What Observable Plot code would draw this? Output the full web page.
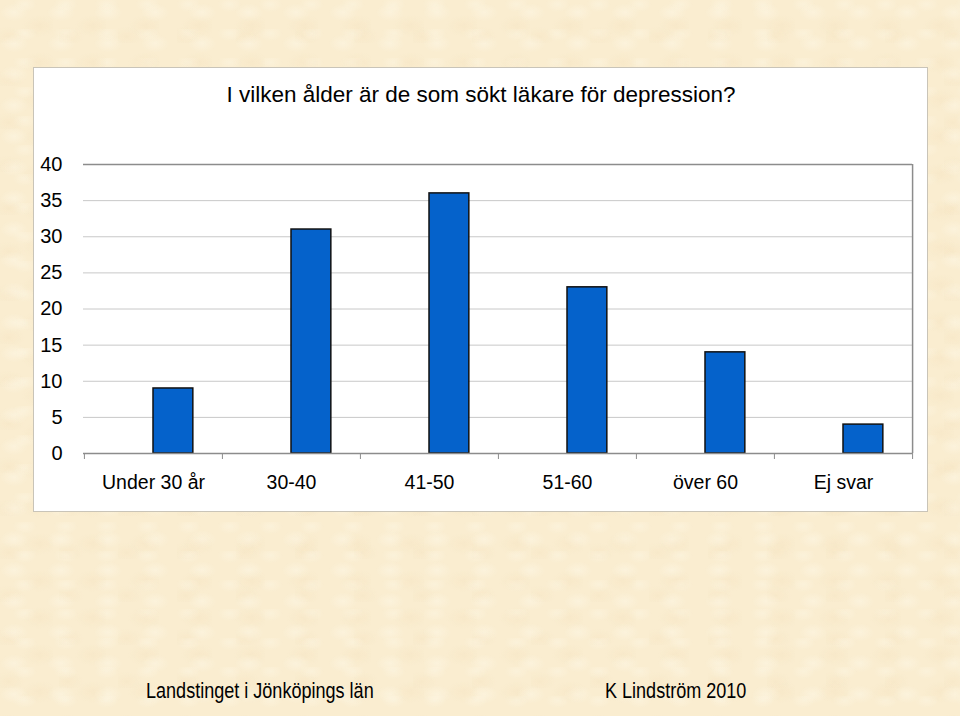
<!DOCTYPE html>
<html>
<head>
<meta charset="utf-8">
<script src="https://cdn.jsdelivr.net/npm/d3@7"></script>
<script src="https://cdn.jsdelivr.net/npm/@observablehq/plot@0.6"></script>
<style>
  html, body { margin: 0; padding: 0; }
  body {
    width: 960px; height: 716px; position: relative; overflow: hidden;
    font-family: "Liberation Sans", Arial, sans-serif;
    background-color: #faedd0;
    background-image:
      radial-gradient(ellipse 14px 9px at 30% 40%, rgba(255,252,240,0.35), transparent),
      radial-gradient(ellipse 18px 11px at 75% 70%, rgba(240,218,178,0.22), transparent),
      radial-gradient(ellipse 12px 8px at 60% 15%, rgba(255,252,240,0.3), transparent),
      radial-gradient(ellipse 16px 10px at 15% 85%, rgba(240,218,178,0.2), transparent);
    background-size: 47px 31px, 53px 37px, 41px 29px, 59px 43px;
  }
  #panel {
    position: absolute; left: 33px; top: 67px; width: 893px; height: 443px;
    background: #ffffff; border: 1px solid #c9c4b8;
  }
  #title {
    position: absolute; left: 0; width: 962px; top: 82px; text-align: center;
    font-size: 22.5px; color: #000; white-space: nowrap;
  }
  #chart { position: absolute; left: 0; top: 0; }
  .foot {
    position: absolute; top: 678px; font-size: 22px; color: #000;
    transform: scaleX(0.82); transform-origin: left center; white-space: nowrap;
  }
</style>
</head>
<body>
<div id="panel"></div>
<div id="title">I vilken ålder är de som sökt läkare för depression?</div>
<div id="chart"></div>
<div class="foot" style="left:146px">Landstinget i Jönköpings län</div>
<div class="foot" style="left:605px">K Lindström 2010</div>
<script>
const categories = ["Under 30 år", "30-40", "41-50", "51-60", "över 60", "Ej svar"];
const values = [9, 31, 36, 23, 14, 4];
const yTicks = [0, 5, 10, 15, 20, 25, 30, 35, 40];

const data = categories.map((c, i) => ({category: c, value: values[i]}));
const step = (912 - 83) / categories.length;

const chart = Plot.plot({
  width: 960,
  height: 520,
  marginLeft: 83,
  marginRight: 48,
  marginTop: 164,
  marginBottom: 67,
  style: {background: "transparent", fontFamily: "'Liberation Sans', Arial, sans-serif", overflow: "visible"},
  x: {domain: categories, padding: 0, label: null},
  y: {domain: [0, 40], label: null},
  marks: [
    Plot.ruleY(yTicks.filter(d => d > 0 && d < 40), {stroke: "#c8c8c8", strokeWidth: 1, strokeOpacity: 1}),
    Plot.ruleY([40], {stroke: "#8c8c8c", strokeWidth: 1.5}),
    Plot.ruleX([categories[categories.length - 1]], {y1: 0, y2: 40, dx: step / 2, stroke: "#8c8c8c", strokeWidth: 1.5}),
    Plot.barY(data, {x: "category", y: "value", fill: "#0562cb", stroke: "#111111", strokeWidth: 1.5, insetLeft: 69, insetRight: step - 69 - 40}),
    Plot.ruleY([0], {stroke: "#8c8c8c", strokeWidth: 1.5}),
    Plot.ruleX(categories, {y1: 0, y2: 0, dx: -step / 2, stroke: "#8c8c8c", strokeWidth: 1, insetBottom: -6}),
    Plot.ruleX([categories[categories.length - 1]], {y1: 0, y2: 0, dx: step / 2, stroke: "#8c8c8c", strokeWidth: 1, insetBottom: -6}),
    Plot.axisY({ticks: yTicks, tickSize: 0, tickPadding: 21, fontSize: 20, fill: "#000", label: null}),
    Plot.axisX({tickSize: 0, tickPadding: 22, fontSize: 19.5, fill: "#000", label: null})
  ]
});
document.getElementById("chart").appendChild(chart);
</script>
</body>
</html>
